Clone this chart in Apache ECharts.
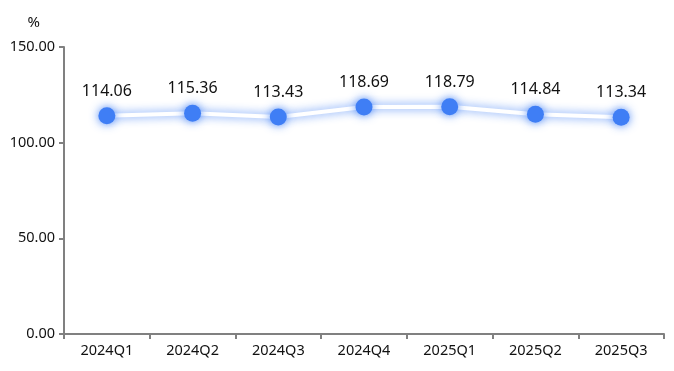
<!DOCTYPE html>
<html><head><meta charset="utf-8">
<script src="https://cdn.jsdelivr.net/npm/echarts@6/dist/echarts.min.js"></script>
<style>html,body{margin:0;padding:0;background:#fff}#c{width:674px;height:371px}</style>
</head><body><div id="c"></div>
<script>
const categories = ['2024Q1','2024Q2','2024Q3','2024Q4','2025Q1','2025Q2','2025Q3'];
const values = [114.06, 115.36, 113.43, 118.69, 118.79, 114.84, 113.34];
const yTicks = [0, 50, 100, 150];

const chart = echarts.init(document.getElementById('c'));
chart.setOption({
  animation: false,
  grid: {left: 64, right: 10, top: 47, bottom: 37},
  xAxis: {
    type: 'category', data: categories,
    axisLine: {lineStyle: {color: '#808080', width: 2}},
    axisTick: {show: true, length: 5, lineStyle: {color: '#808080', width: 2}},
    axisLabel: {color: '#111', fontSize: 14.5, fontFamily: 'Noto Sans', margin: 9}
  },
  yAxis: {
    type: 'value', min: yTicks[0], max: yTicks[yTicks.length-1], interval: 50,
    name: '%', nameGap: 17, nameTextStyle: {color: '#111', fontSize: 15, fontFamily: 'Noto Sans', align: 'right', padding: [0, 24, 0, 0]},
    axisLine: {show: true, lineStyle: {color: '#808080', width: 2}},
    axisTick: {show: true, length: 5, lineStyle: {color: '#808080', width: 2}},
    splitLine: {show: false},
    axisLabel: {color: '#111', fontSize: 14.5, fontFamily: 'Noto Sans', margin: 9, formatter: v => v.toFixed(2)}
  },
  series: [{
    type: 'line', data: values,
    symbol: 'circle', symbolSize: 17,
    itemStyle: {color: '#3f7ef5', shadowColor: 'rgba(63,126,245,0.9)', shadowBlur: 10},
    lineStyle: {color: '#ffffff', width: 4, shadowColor: 'rgba(63,126,245,0.9)', shadowBlur: 10},
    label: {show: true, position: 'top', distance: 8, color: '#111', fontSize: 16, fontFamily: 'Noto Sans', formatter: p => p.value.toFixed(2)}
  }]
});
</script></body></html>
